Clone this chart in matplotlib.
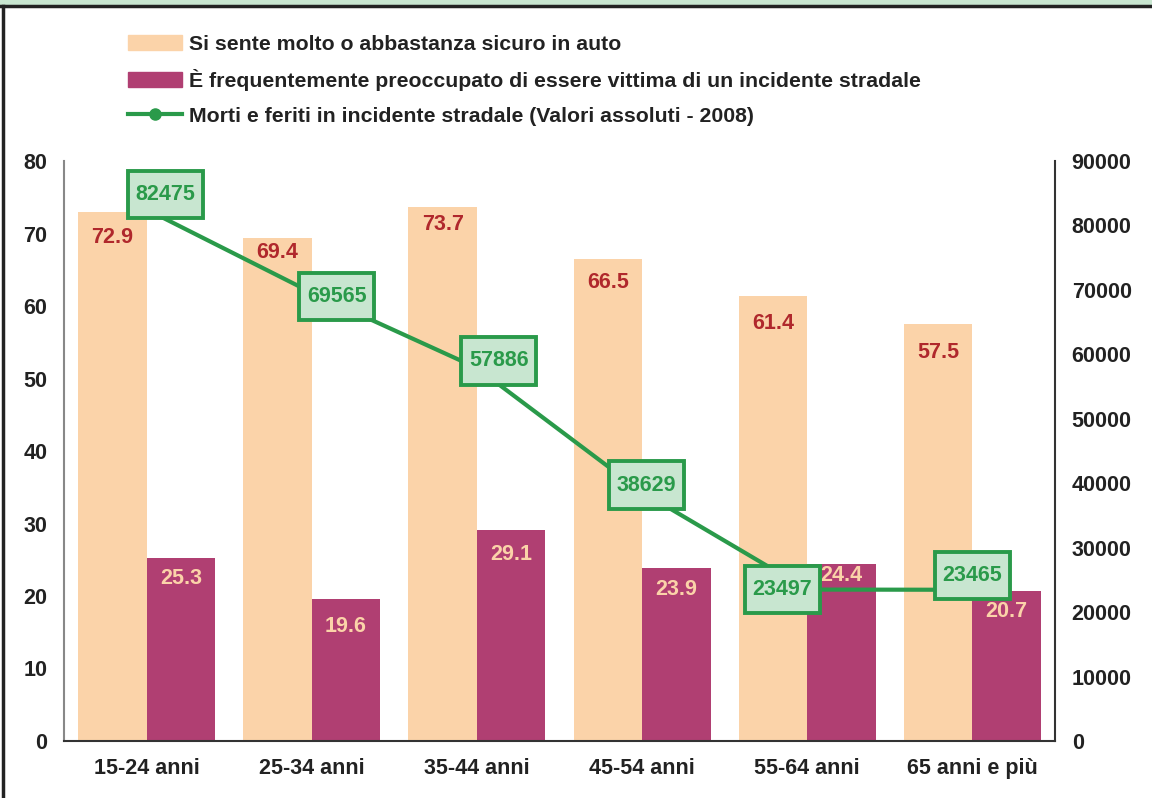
import matplotlib.pyplot as plt
import numpy as np
from matplotlib.patches import Patch, Rectangle
from matplotlib.lines import Line2D

plt.rcParams['font.family'] = ['Liberation Sans', 'DejaVu Sans']
plt.rcParams['font.weight'] = 'bold'

categorie = ["15-24 anni", "25-34 anni", "35-44 anni", "45-54 anni", "55-64 anni", "65 anni e più"]
sicuro = [72.9, 69.4, 73.7, 66.5, 61.4, 57.5]
preoccupato = [25.3, 19.6, 29.1, 23.9, 24.4, 20.7]
morti_feriti = [82475, 69565, 57886, 38629, 23497, 23465]

# spostamento delle etichette (pixel) rispetto al punto / alla cima della barra
off_box = [(19, 15), (25, -4), (22, 7), (4, 7), (-25, 0), (0, 14)]
off_sicuro = [-25, -15, -18, -24, -28, -28]
off_preocc = [-21, -28, -24, -22, -11, -21]

c_peach = "#fbd3a9"
c_magenta = "#b03f72"
c_green = "#2a9a4a"
c_box = "#c8e6d0"
c_red = "#b0282c"
fs = 15.5

fig = plt.figure(figsize=(11.52, 7.98), dpi=100)
ax = fig.add_axes([64 / 1152, 57 / 798, (1055 - 64) / 1152, (741 - 161) / 798])

x = np.arange(len(categorie))
w = 0.415
b1 = ax.bar(x - w / 2, sicuro, w, color=c_peach, zorder=1)
b2 = ax.bar(x + w / 2, preoccupato, w, color=c_magenta, zorder=1)

ax.set_xlim(-0.5, len(categorie) - 0.5)
ax.set_ylim(0, 80)
ax.set_yticks(range(0, 81, 10))
ax.set_xticks(x)
ax.set_xticklabels(categorie)
ax.tick_params(axis='both', length=0, labelsize=fs, colors='#222222')
ax.tick_params(axis='y', pad=12)
ax.tick_params(axis='x', pad=12)
for s in ['top', 'right']:
    ax.spines[s].set_visible(False)
ax.spines['left'].set_color('#888888')
ax.spines['left'].set_linewidth(1.5)
ax.spines['bottom'].set_color('#333333')
ax.spines['bottom'].set_linewidth(1.5)

for i in range(len(categorie)):
    ax.annotate(f"{sicuro[i]}", (x[i] - w / 2, sicuro[i]), xytext=(0, off_sicuro[i]),
                textcoords='offset pixels', ha='center', va='center',
                color=c_red, fontsize=fs, fontweight='bold', zorder=3)
    ax.annotate(f"{preoccupato[i]}", (x[i] + w / 2, preoccupato[i]), xytext=(0, off_preocc[i]),
                textcoords='offset pixels', ha='center', va='center',
                color=c_peach, fontsize=fs, fontweight='bold', zorder=3)

ax2 = ax.twinx()
ax2.set_ylim(0, 90000)
ax2.set_yticks(range(0, 90001, 10000))
ax2.tick_params(axis='y', length=0, labelsize=fs, colors='#222222', pad=12)
for s in ['top', 'left', 'bottom']:
    ax2.spines[s].set_visible(False)
ax2.spines['right'].set_color('#333333')
ax2.spines['right'].set_linewidth(1.5)
ax2.plot(x, morti_feriti, color=c_green, lw=3, marker='o', ms=7, zorder=2)

for i in range(len(categorie)):
    ax2.annotate(f"{morti_feriti[i]}", (x[i], morti_feriti[i]), xytext=off_box[i],
                 textcoords='offset pixels', ha='center', va='center',
                 color=c_green, fontsize=fs, fontweight='bold', zorder=4,
                 bbox=dict(boxstyle='square,pad=0.36', fc=c_box, ec=c_green, lw=2.8,
                           mutation_aspect=1.7))

# legenda
handles = [Patch(color=c_peach), Patch(color=c_magenta),
           Line2D([], [], color=c_green, lw=3, marker='o', ms=8)]
labels = ["Si sente molto o abbastanza sicuro in auto",
          "È frequentemente preoccupato di essere vittima di un incidente stradale",
          "Morti e feriti in incidente stradale (Valori assoluti - 2008)"]
fig.legend(handles, labels, loc='upper left', bbox_to_anchor=(128 / 1152, 1 - 35 / 798),
           frameon=False, fontsize=15.3, handlelength=2.55, handletextpad=0.3,
           labelspacing=0.72, borderpad=0, borderaxespad=0, labelcolor='#222222')

# cornice: striscia verde in alto, bordo nero
fig.patches.append(Rectangle((0, 1 - 5 / 798), 1, 5 / 798, transform=fig.transFigure,
                             color=c_box, zorder=0))
fig.add_artist(Line2D([0, 1], [1 - 6 / 798, 1 - 6 / 798], color='#222222', lw=2.5,
                      transform=fig.transFigure))
fig.add_artist(Line2D([3 / 1152, 3 / 1152], [0, 1 - 6 / 798], color='#222222', lw=2.5,
                      transform=fig.transFigure))

fig.savefig("out.png", dpi=100)
